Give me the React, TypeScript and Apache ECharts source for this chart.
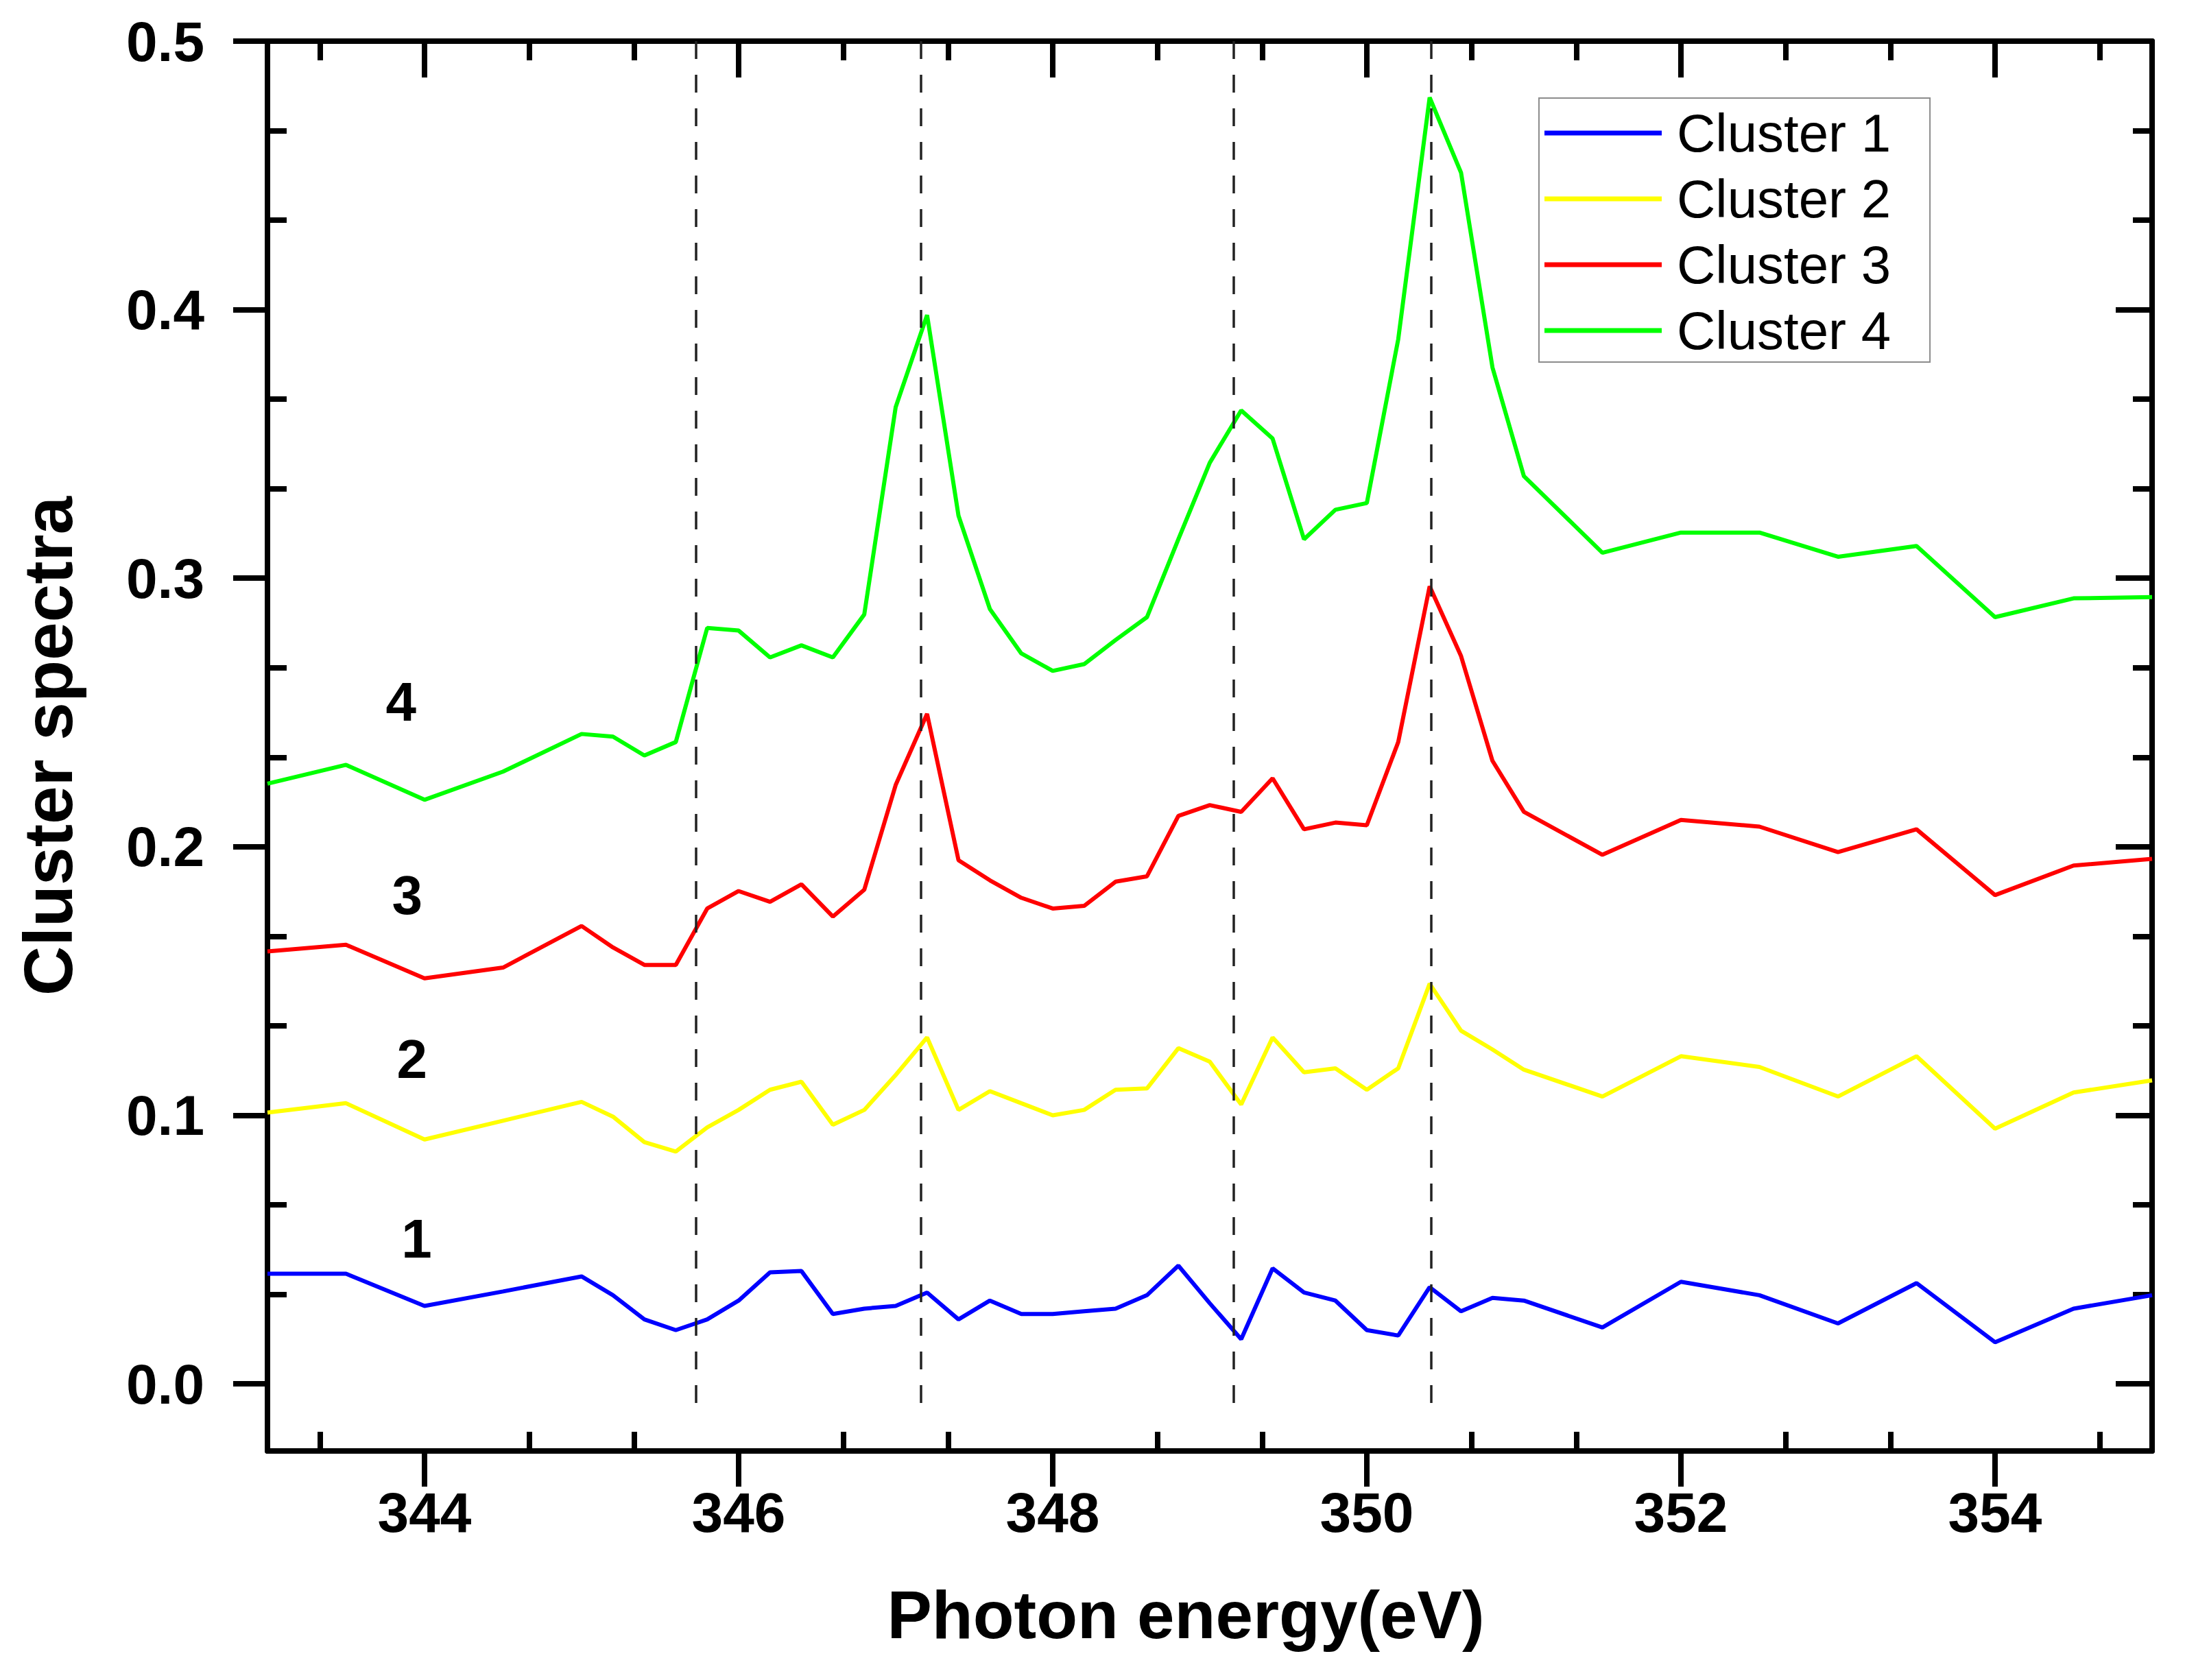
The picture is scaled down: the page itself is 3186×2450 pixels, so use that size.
import { useEffect, useRef } from 'react'
import * as echarts from 'echarts'

const FONT = '"Liberation Sans", Arial, Helvetica, sans-serif'

// photon energy (eV) of each sample
const energy = [
  343, 343.5, 344, 344.5, 345, 345.2, 345.4, 345.6, 345.8, 346, 346.2, 346.4, 346.6, 346.8,
  347, 347.2, 347.4, 347.6, 347.8, 348, 348.2, 348.4, 348.6, 348.8, 349, 349.2, 349.4, 349.6,
  349.8, 350, 350.2, 350.4, 350.6, 350.8, 351, 351.5, 352, 352.5, 353, 353.5, 354, 354.5, 355,
]

const cluster1 = [
  0.041, 0.041, 0.029, 0.0344, 0.04, 0.033, 0.024, 0.02, 0.024, 0.031, 0.0415, 0.042, 0.026, 0.028,
  0.029, 0.034, 0.024, 0.031, 0.026, 0.026, 0.027, 0.028, 0.033, 0.044, 0.03, 0.0166, 0.043, 0.034,
  0.031, 0.02, 0.018, 0.036, 0.027, 0.032, 0.031, 0.021, 0.038, 0.033, 0.0225, 0.0375, 0.0155, 0.028, 0.033,
]

const cluster2 = [
  0.101, 0.1045, 0.091, 0.098, 0.105, 0.0995, 0.09, 0.0865, 0.0955, 0.102, 0.1095, 0.1125, 0.0965, 0.102,
  0.115, 0.129, 0.102, 0.109, 0.1045, 0.1, 0.102, 0.1095, 0.11, 0.125, 0.12, 0.104, 0.129, 0.116,
  0.1175, 0.1095, 0.1175, 0.149, 0.1315, 0.1245, 0.117, 0.107, 0.122, 0.118, 0.107, 0.122, 0.095, 0.1085, 0.113,
]

const cluster3 = [
  0.161, 0.1635, 0.151, 0.155, 0.1705, 0.1625, 0.156, 0.156, 0.177, 0.1835, 0.1795, 0.186, 0.174, 0.184,
  0.223, 0.2495, 0.195, 0.1875, 0.181, 0.177, 0.178, 0.187, 0.189, 0.2115, 0.2155, 0.213, 0.2255, 0.2065,
  0.209, 0.208, 0.239, 0.297, 0.271, 0.232, 0.213, 0.197, 0.21, 0.2075, 0.198, 0.2065, 0.182, 0.193, 0.1955,
]

const cluster4 = [
  0.2235, 0.2305, 0.2175, 0.228, 0.242, 0.241, 0.234, 0.239, 0.2815, 0.2805, 0.2705, 0.275, 0.2705, 0.2865,
  0.3637, 0.398, 0.3233, 0.2885, 0.272, 0.2655, 0.268, 0.277, 0.2855, 0.3145, 0.343, 0.3625, 0.352, 0.3145,
  0.3255, 0.328, 0.389, 0.479, 0.451, 0.3785, 0.338, 0.3095, 0.317, 0.317, 0.308, 0.312, 0.2855, 0.2925, 0.293,
]

const seriesNames = ['Cluster 1', 'Cluster 2', 'Cluster 3', 'Cluster 4']
const seriesColors = ['#0000ff', '#ffff00', '#ff0000', '#00ff00']

// vertical guide lines (eV)
const guideEnergies = [345.73, 347.16, 349.15, 350.41]

// curve numbers written at the left
const curveTags = ['1', '2', '3', '4']
const curveTagX = [343.95, 343.92, 343.89, 343.85]
const curveTagY = [0.054, 0.121, 0.182, 0.254]

const xMajor = [344, 346, 348, 350, 352, 354]
const xMinor = [
  343.333, 344.667, 345.333, 346.667, 347.333, 348.667, 349.333, 350.667, 351.333, 352.667,
  353.333, 354.667,
]
const yMajor = [0, 0.1, 0.2, 0.3, 0.4, 0.5]
const yMinor = [
  0.0333, 0.0667, 0.1333, 0.1667, 0.2333, 0.2667, 0.3333, 0.3667, 0.4333, 0.4667,
]

const axisBlack = { color: '#000', width: 8 }

function tickAxis(position: string, values: number[], inside: boolean, length: number, showLine: boolean) {
  return {
    type: 'value',
    position,
    axisLine: { show: showLine, onZero: false, lineStyle: axisBlack },
    axisTick: { show: true, inside, length, customValues: values, lineStyle: axisBlack },
    axisLabel: { show: false },
    splitLine: { show: false },
  }
}

export default function App() {
  const chartRef = useRef<HTMLDivElement>(null)

  useEffect(() => {
    document.body.style.margin = '0'
    if (!chartRef.current) return
    const chart = echarts.init(chartRef.current, null, { renderer: 'svg' })

    const xRange = { min: 343, max: 355 }
    const yRange = { min: -0.025, max: 0.5 }

    const lineSeries = [cluster1, cluster2, cluster3, cluster4].map((ys, i) => ({
      name: seriesNames[i],
      type: 'line',
      xAxisIndex: 0,
      yAxisIndex: 0,
      data: energy.map((x, j) => [x, ys[j]]),
      showSymbol: false,
      symbol: 'none',
      lineStyle: { color: seriesColors[i], width: 6 },
      itemStyle: { color: seriesColors[i] },
      z: 3,
    }))

    chart.setOption({
      animation: false,
      backgroundColor: '#fff',
      grid: { left: 390, right: 48, top: 60, bottom: 334 },
      legend: {
        data: seriesNames,
        orient: 'vertical',
        left: 2244,
        top: 143,
        icon: 'rect',
        itemWidth: 171,
        itemHeight: 7,
        itemGap: 18,
        padding: [12, 57, 7, 8],
        borderColor: '#8c8c8c',
        borderWidth: 2,
        backgroundColor: '#fff',
        textStyle: { fontSize: 78, lineHeight: 78, color: '#000', fontFamily: FONT, padding: [0, 0, 0, 17] },
      },
      xAxis: [
        {
          ...xRange,
          type: 'value',
          position: 'bottom',
          axisLine: { show: true, onZero: false, lineStyle: axisBlack },
          axisTick: { show: true, inside: false, length: 52, customValues: xMajor, lineStyle: axisBlack },
          axisLabel: {
            customValues: xMajor,
            margin: 48,
            fontSize: 82,
            fontWeight: 'bold',
            color: '#000',
            fontFamily: FONT,
          },
          splitLine: { show: false },
          name: 'Photon energy(eV)',
          nameLocation: 'middle',
          nameGap: 190,
          nameTextStyle: {
            fontSize: 98,
            fontWeight: 'bold',
            color: '#000',
            fontFamily: FONT,
            padding: [0, 70, 0, 0],
          },
        },
        { ...xRange, ...tickAxis('bottom', xMinor, true, 28, false) },
        { ...xRange, ...tickAxis('top', xMajor, true, 53, true) },
        { ...xRange, ...tickAxis('top', xMinor, true, 28, false) },
      ],
      yAxis: [
        {
          ...yRange,
          type: 'value',
          position: 'left',
          axisLine: { show: true, onZero: false, lineStyle: axisBlack },
          axisTick: { show: true, inside: false, length: 50, customValues: yMajor, lineStyle: axisBlack },
          axisLabel: {
            customValues: yMajor,
            margin: 92,
            fontSize: 82,
            fontWeight: 'bold',
            color: '#000',
            fontFamily: FONT,
            formatter: (v: number) => v.toFixed(1),
          },
          splitLine: { show: false },
          name: 'Cluster spectra',
          nameLocation: 'middle',
          nameGap: 270,
          nameTextStyle: { fontSize: 100, fontWeight: 'bold', color: '#000', fontFamily: FONT },
        },
        { ...yRange, ...tickAxis('left', yMinor, true, 28, false) },
        { ...yRange, ...tickAxis('right', yMajor, true, 53, true) },
        { ...yRange, ...tickAxis('right', yMinor, true, 28, false) },
      ],
      series: [
        ...lineSeries,
        {
          name: 'guides',
          type: 'line',
          data: [],
          silent: true,
          markLine: {
            silent: true,
            symbol: ['none', 'none'],
            label: { show: false },
            lineStyle: { color: '#222', width: 3.5, type: [26, 23] },
            data: guideEnergies.map((x) => [{ coord: [x, 0.5] }, { coord: [x, -0.013] }]),
          },
          z: 2,
        },
        {
          name: 'tags',
          type: 'scatter',
          symbol: 'circle',
          symbolSize: 0,
          silent: true,
          data: curveTagX.map((x, i) => [x, curveTagY[i], curveTags[i]]),
          itemStyle: { color: '#000', opacity: 1 },
          label: {
            show: true,
            position: 'inside',
            formatter: (p: any) => p.value[2],
            fontSize: 80,
            fontWeight: 'bold',
            color: '#000',
            textBorderWidth: 0,
            opacity: 1,
            fontFamily: FONT,
          },
          z: 4,
        },
      ],
    })

    return () => {
      chart.dispose()
    }
  }, [])

  return <div ref={chartRef} style={{ width: '3186px', height: '2450px' }}></div>
}
